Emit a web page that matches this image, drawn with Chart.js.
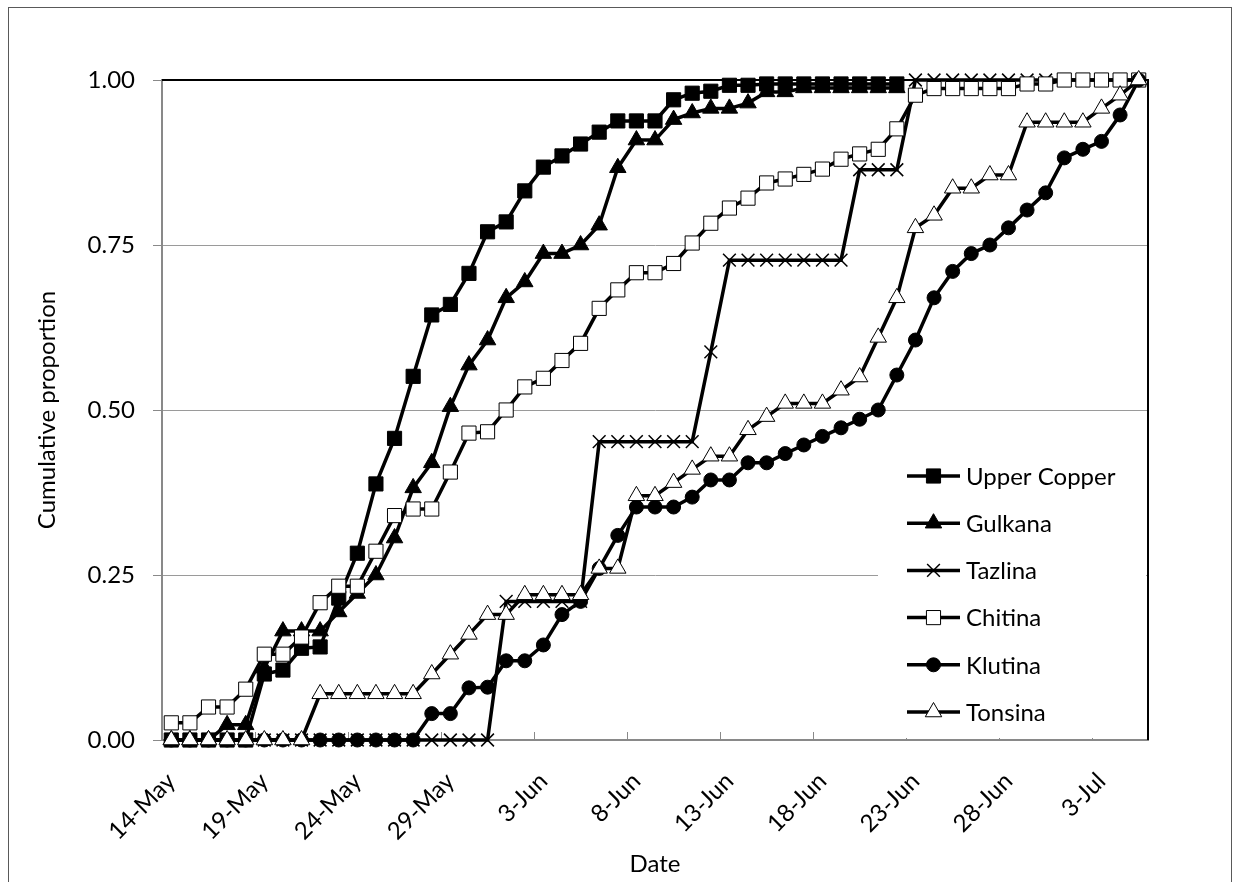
<!DOCTYPE html>
<html>
<head>
<meta charset="utf-8">
<title>Cumulative proportion by date</title>
<script src="https://cdn.jsdelivr.net/npm/chart.js@4.4.1/dist/chart.umd.min.js"></script>
<style>
  html, body { margin: 0; padding: 0; background: #fff; }
  #wrap { position: relative; width: 1235px; height: 882px; }
</style>
</head>
<body>
<div id="wrap"><canvas id="chart"></canvas></div>
<script>
const dates = [
  '14-May', '15-May', '16-May', '17-May', '18-May', '19-May', '20-May', '21-May', '22-May', '23-May',
  '24-May', '25-May', '26-May', '27-May', '28-May', '29-May', '30-May', '31-May', '1-Jun', '2-Jun',
  '3-Jun', '4-Jun', '5-Jun', '6-Jun', '7-Jun', '8-Jun', '9-Jun', '10-Jun', '11-Jun', '12-Jun',
  '13-Jun', '14-Jun', '15-Jun', '16-Jun', '17-Jun', '18-Jun', '19-Jun', '20-Jun', '21-Jun', '22-Jun',
  '23-Jun', '24-Jun', '25-Jun', '26-Jun', '27-Jun', '28-Jun', '29-Jun', '30-Jun', '1-Jul', '2-Jul',
  '3-Jul', '4-Jul', '5-Jul'
];
const yTicks = [0, 0.25, 0.5, 0.75, 1];

const upperCopper = [
  0, 0, 0, 0, 0, 0.100, 0.106, 0.139, 0.141, 0.215,
  0.283, 0.388, 0.457, 0.551, 0.644, 0.660, 0.707, 0.770, 0.785, 0.832,
  0.868, 0.885, 0.903, 0.921, 0.938, 0.938, 0.938, 0.970, 0.980, 0.983,
  0.992, 0.992, 0.994, 0.994, 0.994, 0.994, 0.994, 0.994, 0.994, 0.994
];
const gulkana = [
  0, 0, 0, 0.023, 0.023, 0.109, 0.165, 0.165, 0.165, 0.194,
  0.222, 0.250, 0.306, 0.382, 0.420, 0.505, 0.568, 0.606, 0.670, 0.694,
  0.737, 0.737, 0.750, 0.780, 0.867, 0.909, 0.909, 0.940, 0.950, 0.957,
  0.957, 0.965, 0.982, 0.982, 0.988, 0.988, 0.988, 0.988, 0.988, 0.988
];
const tazlina = [
  0, 0, 0, 0, 0, 0, 0, 0, 0, 0,
  0, 0, 0, 0, 0, 0, 0, 0, 0.210, 0.210,
  0.210, 0.210, 0.210, 0.452, 0.452, 0.452, 0.452, 0.452, 0.452, 0.588,
  0.727, 0.727, 0.727, 0.727, 0.727, 0.727, 0.727, 0.864, 0.864, 0.864,
  1, 1, 1, 1, 1, 1, 1, 1, 1, 1,
  1, 1, 1
];
const chitina = [
  0.026, 0.026, 0.050, 0.050, 0.077, 0.130, 0.130, 0.156, 0.208, 0.233,
  0.233, 0.286, 0.340, 0.350, 0.350, 0.406, 0.465, 0.467, 0.500, 0.535,
  0.548, 0.575, 0.601, 0.654, 0.682, 0.708, 0.708, 0.722, 0.753, 0.783,
  0.806, 0.821, 0.844, 0.850, 0.857, 0.865, 0.880, 0.888, 0.895, 0.926,
  0.977, 0.987, 0.987, 0.987, 0.987, 0.987, 0.994, 0.994, 1, 1,
  1, 1, 1
];
const klutina = [
  0, 0, 0, 0, 0, 0, 0, 0, 0, 0,
  0, 0, 0, 0, 0.040, 0.040, 0.079, 0.080, 0.120, 0.120,
  0.144, 0.190, 0.210, 0.260, 0.310, 0.353, 0.353, 0.353, 0.368, 0.394,
  0.394, 0.420, 0.420, 0.434, 0.447, 0.460, 0.473, 0.486, 0.500, 0.553,
  0.606, 0.670, 0.710, 0.737, 0.750, 0.776, 0.803, 0.829, 0.882, 0.895,
  0.907, 0.947, 1
];
const tonsina = [
  0, 0, 0, 0, 0, 0, 0, 0, 0.070, 0.070,
  0.070, 0.070, 0.070, 0.070, 0.100, 0.130, 0.160, 0.190, 0.190, 0.220,
  0.220, 0.220, 0.220, 0.260, 0.260, 0.370, 0.370, 0.390, 0.410, 0.430,
  0.430, 0.470, 0.490, 0.510, 0.510, 0.510, 0.530, 0.550, 0.610, 0.670,
  0.776, 0.795, 0.836, 0.836, 0.856, 0.856, 0.936, 0.936, 0.936, 0.936,
  0.957, 0.977, 1
];

const seriesNames = ['Upper Copper', 'Gulkana', 'Tazlina', 'Chitina', 'Klutina', 'Tonsina'];
const seriesValues = [upperCopper, gulkana, tazlina, chitina, klutina, tonsina];
const seriesStyles = [
  { pointStyle: 'rect', pointRadius: 10, fill: '#000000' },
  { pointStyle: 'triangle', pointRadius: 9.5, fill: '#000000' },
  { pointStyle: 'crossRot', pointRadius: 9, fill: '#000000' },
  { pointStyle: 'rect', pointRadius: 10, fill: '#ffffff' },
  { pointStyle: 'circle', pointRadius: 7, fill: '#000000' },
  { pointStyle: 'triangle', pointRadius: 9.5, fill: '#ffffff' }
];

const FONT = 'Lato, "Open Sans", sans-serif';
const LINE_W = 3.5;

const datasets = seriesNames.map((name, i) => ({
  label: name,
  data: seriesValues[i],
  borderColor: '#000000',
  borderWidth: LINE_W,
  tension: 0,
  fill: false,
  clip: false,
  order: seriesNames.length - i,
  pointStyle: seriesStyles[i].pointStyle,
  pointRadius: seriesStyles[i].pointRadius,
  pointHoverRadius: seriesStyles[i].pointRadius,
  pointBackgroundColor: seriesStyles[i].fill,
  pointBorderColor: '#000000',
  pointBorderWidth: seriesStyles[i].pointStyle === 'crossRot' ? 1.5 : 1
}));

// frame of the whole chart, plot border and the small inside ticks on the date axis
const framePlugin = {
  id: 'framePlugin',
  beforeDraw(chart) {
    const ctx = chart.ctx;
    ctx.save();
    ctx.fillStyle = '#ffffff';
    ctx.fillRect(0, 0, chart.width, chart.height);
    ctx.strokeStyle = '#595959';
    ctx.lineWidth = 1;
    ctx.strokeRect(8.5, 7.5, 1223, 920);
    ctx.restore();
  },
  beforeDatasetsDraw(chart) {
    const ctx = chart.ctx;
    const a = chart.chartArea;
    const xs = chart.scales.x;
    ctx.save();
    ctx.strokeStyle = '#000000';
    ctx.lineWidth = 2;
    ctx.beginPath();
    ctx.moveTo(a.left, a.top);
    ctx.lineTo(a.right, a.top);
    ctx.lineTo(a.right, a.bottom);
    ctx.stroke();
    ctx.strokeStyle = '#898989';
    ctx.lineWidth = 1;
    for (let i = 5; i < dates.length; i += 5) {
      const px = Math.round((xs.getPixelForValue(i - 1) + xs.getPixelForValue(i)) / 2) + 0.5;
      ctx.beginPath();
      ctx.moveTo(px, a.bottom);
      ctx.lineTo(px, a.bottom - 8);
      ctx.stroke();
    }
    ctx.restore();
  }
};

// legend drawn inside the plot area, lower right
const legendPlugin = {
  id: 'legendPlugin',
  afterDatasetsDraw(chart) {
    const ctx = chart.ctx;
    const a = chart.chartArea;
    const boxLeft = a.right - 270;
    const boxTop = a.bottom - 300;
    ctx.save();
    ctx.fillStyle = '#ffffff';
    ctx.fillRect(boxLeft, boxTop, 268, 298);
    const lineX0 = boxLeft + 29;
    const lineX1 = boxLeft + 82;
    const textX = boxLeft + 88;
    const firstY = a.bottom - 264;
    const step = 47.2;
    ctx.font = '24px ' + FONT;
    ctx.textBaseline = 'middle';
    ctx.textAlign = 'left';
    seriesNames.forEach((name, i) => {
      const y = firstY + i * step;
      ctx.strokeStyle = '#000000';
      ctx.lineWidth = LINE_W;
      ctx.beginPath();
      ctx.moveTo(lineX0, y);
      ctx.lineTo(lineX1, y);
      ctx.stroke();
      ctx.fillStyle = seriesStyles[i].fill;
      ctx.strokeStyle = '#000000';
      ctx.lineWidth = seriesStyles[i].pointStyle === 'crossRot' ? 1.5 : 1;
      Chart.helpers.drawPoint(ctx, {
        pointStyle: seriesStyles[i].pointStyle,
        radius: seriesStyles[i].pointRadius,
        rotation: 0,
        borderWidth: ctx.lineWidth
      }, (lineX0 + lineX1) / 2, y);
      ctx.fillStyle = '#000000';
      ctx.fillText(name, textX, y + 1);
    });
    ctx.restore();
  }
};

new Chart(document.getElementById('chart'), {
  type: 'line',
  data: { labels: dates, datasets: datasets },
  plugins: [framePlugin, legendPlugin],
  options: {
    responsive: true,
    maintainAspectRatio: false,
    animation: false,
    events: [],
    layout: { padding: { left: 8, top: 80, right: 87, bottom: 0 } },
    plugins: {
      legend: { display: false },
      tooltip: { enabled: false }
    },
    scales: {
      x: {
        type: 'category',
        offset: true,
        afterFit(scale) { scale.height = 142; },
        grid: { display: true, drawOnChartArea: false, drawTicks: false, offset: true },
        border: { display: true, color: '#898989', width: 2 },
        ticks: {
          autoSkip: false,
          maxRotation: 45,
          minRotation: 45,
          padding: 27,
          color: '#000000',
          font: { family: FONT, size: 24 },
          callback: (value, index) => (index % 5 === 0 ? dates[index] : '')
        },
        title: {
          display: true,
          text: 'Date',
          color: '#000000',
          font: { family: FONT, size: 24 },
          padding: { top: 0, bottom: 3 }
        }
      },
      y: {
        min: 0,
        max: 1,
        afterFit(scale) { scale.width = 154; },
        afterBuildTicks(scale) { scale.ticks = yTicks.map(v => ({ value: v })); },
        grid: { color: '#9a9a9a', lineWidth: 1, drawTicks: true, tickLength: 9, tickColor: '#898989' },
        border: { display: true, color: '#898989', width: 2 },
        ticks: {
          padding: 18,
          color: '#000000',
          font: { family: FONT, size: 24 },
          callback: value => Number(value).toFixed(2)
        },
        title: {
          display: true,
          text: 'Cumulative proportion',
          color: '#000000',
          font: { family: FONT, size: 24 },
          padding: { top: 25, bottom: 0 }
        }
      }
    }
  }
});
</script>
</body>
</html>
